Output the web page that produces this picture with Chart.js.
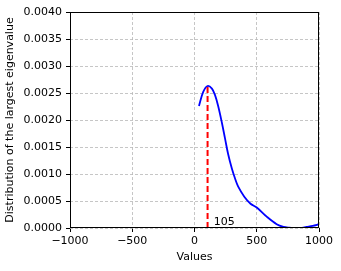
<!DOCTYPE html>
<html>
<head>
<meta charset="utf-8">
<script src="https://cdn.jsdelivr.net/npm/chart.js@4"></script>
<style>
  html, body { margin: 0; padding: 0; background: #fff; }
  canvas { display: block; }
</style>
</head>
<body>
<canvas id="chart" width="341" height="271"></canvas>
<script>
// density curve
const curveX = [36, 70, 105, 140, 165, 190, 220, 245, 270, 300, 325, 350, 400, 450, 500, 580, 660, 715, 760, 800, 850, 900, 950, 1000];
const curveY = [0.00226, 0.00252, 0.00263, 0.00258, 0.00246, 0.00226, 0.00195, 0.00166, 0.00137, 0.0011, 0.00092, 0.00077, 0.00058, 0.00045, 0.00038, 0.00021, 0.00007, 0.00002, 0.000005, 0, 0, 0.00002, 0.00004, 0.00007];

const peakX = 105;
const peakY = 0.00263;
const peakLabel = '105';
const peakLabelX = 155;
const peakLabelY = 0.00005;

const xTitle = 'Values';
const yTitle = 'Distribution of the largest eigenvalue';

const FONT = "'DejaVu Sans', sans-serif";

const framePlugin = {
  id: 'frame',
  afterDraw(chart) {
    const { ctx, chartArea: a } = chart;
    ctx.save();
    ctx.strokeStyle = '#000';
    ctx.lineWidth = 1;
    const l = Math.round(a.left) + 0.5;
    const t = Math.round(a.top) + 0.5;
    const r = Math.round(a.right) - 0.5;
    const b = Math.round(a.bottom) - 0.5;
    ctx.strokeRect(l, t, r - l, b - t);
    ctx.restore();
  },
};

const labelPlugin = {
  id: 'peakLabel',
  afterDatasetsDraw(chart) {
    const { ctx, scales } = chart;
    ctx.save();
    ctx.fillStyle = '#000';
    ctx.font = `11px ${FONT}`;
    ctx.textAlign = 'left';
    ctx.textBaseline = 'alphabetic';
    ctx.fillText(peakLabel, scales.x.getPixelForValue(peakLabelX), scales.y.getPixelForValue(peakLabelY));
    ctx.restore();
  },
};

const gridOpts = {
  color: '#b8b8b8',
  lineWidth: 0.8,
  tickColor: '#000',
  tickLength: 4,
  tickWidth: 1,
};

new Chart(document.getElementById('chart'), {
  type: 'line',
  data: {
    datasets: [
      {
        data: [{ x: peakX, y: 0 }, { x: peakX, y: peakY }],
        borderColor: '#ff0000',
        borderWidth: 2,
        borderDash: [6, 3],
        pointRadius: 0,
        tension: 0,
      },
      {
        data: curveX.map((x, i) => ({ x, y: curveY[i] })),
        borderColor: '#0000ff',
        borderWidth: 1.8,
        pointRadius: 0,
        tension: 0.35,
      },
    ],
  },
  options: {
    responsive: false,
    animation: false,
    events: [],
    layout: { padding: { top: 12, right: 22, left: 0, bottom: 0 } },
    plugins: { legend: { display: false }, tooltip: { enabled: false } },
    scales: {
      x: {
        type: 'linear',
        min: -1000,
        max: 1000,
        afterFit: (s) => { s.height = 271 - 228; },
        ticks: {
          stepSize: 500,
          color: '#000',
          padding: 3,
          maxRotation: 0,
          font: { family: FONT, size: 11 },
          callback: (v) => String(v).replace('-', '\u2212'),
        },
        grid: gridOpts,
        border: { display: false, dash: [3, 2] },
        title: {
          display: true,
          text: xTitle,
          color: '#000',
          font: { family: FONT, size: 11 },
          padding: { top: 0, bottom: 7 },
        },
      },
      y: {
        min: 0,
        max: 0.004,
        afterFit: (s) => { s.width = 70; },
        ticks: {
          stepSize: 0.0005,
          color: '#000',
          padding: 4,
          font: { family: FONT, size: 11 },
          callback: (v) => Number(v).toFixed(4),
        },
        grid: gridOpts,
        border: { display: false, dash: [3, 2] },
        title: {
          display: true,
          text: yTitle,
          color: '#000',
          font: { family: FONT, size: 11 },
          padding: { top: 4, bottom: 0 },
        },
      },
    },
  },
  plugins: [framePlugin, labelPlugin],
});
</script>
</body>
</html>
